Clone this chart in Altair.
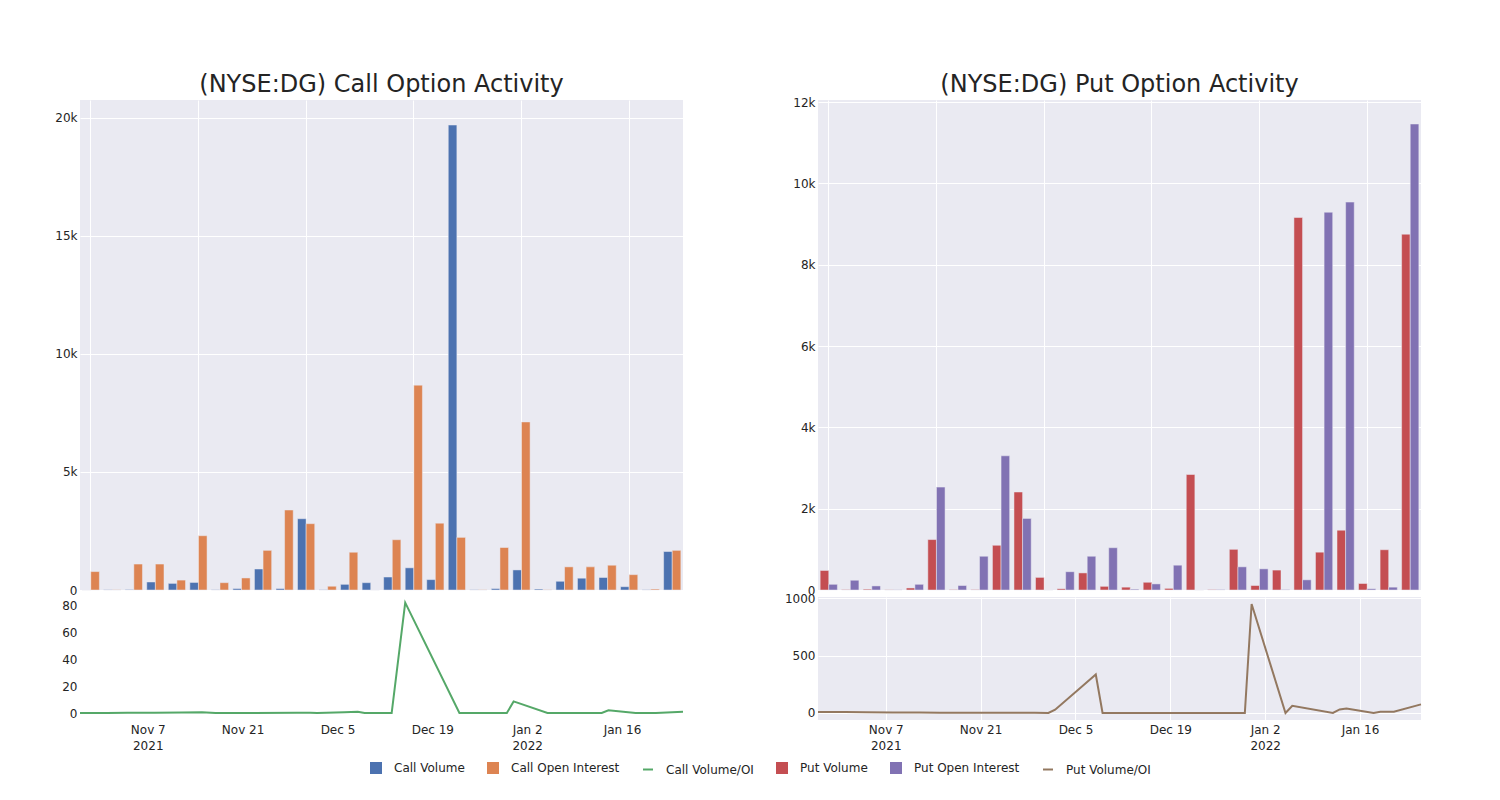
import altair as alt
import pandas as pd

# ---------------- data ----------------
dates = ["2021-10-28", "2021-11-01", "2021-11-04", "2021-11-08", "2021-11-12", "2021-11-15",
         "2021-11-17", "2021-11-22", "2021-11-29", "2021-12-01", "2021-12-02", "2021-12-06",
         "2021-12-08", "2021-12-09", "2021-12-13", "2021-12-15", "2021-12-23", "2021-12-30",
         "2021-12-31", "2022-01-05", "2022-01-06", "2022-01-12", "2022-01-13", "2022-01-14",
         "2022-01-18", "2022-01-19", "2022-01-21", "2022-01-25"]

call_volume = [0, 10, 20, 340, 280, 320, 10, 60, 890, 60, 3020, 10, 240, 310,
               550, 940, 440, 19700, 10, 60, 850, 40, 370, 500, 530, 140, 10, 1630]
call_open_interest = [780, 10, 1100, 1100, 420, 2300, 310, 510, 1680, 3390, 2810, 160, 1600, 0,
                      2130, 8680, 2830, 2230, 10, 1800, 7120, 10, 980, 980, 1050, 650, 40, 1680]
put_volume = [480, 10, 20, 5, 50, 1240, 10, 10, 1100, 2410, 310, 30, 420, 90,
              70, 190, 40, 2840, 10, 1000, 110, 490, 9160, 930, 1470, 160, 990, 8750]
put_open_interest = [140, 240, 100, 5, 140, 2530, 110, 830, 3300, 1760, 0, 450, 830, 1040,
                     20, 150, 610, 0, 10, 570, 520, 10, 250, 9290, 9540, 30, 70, 11460]

call_volume_oi = [0, 0.1, 0.2, 0.3, 0.4, 0.5, 0, 0, 0.2, 0.3, 0, 0.6, 1.0, 0,
                  0, 82.5, 0, 0, 8.7, 0, 0, 0, 0, 2.0, 0.1, 0.1, 0, 1.0]
put_volume_oi = [9, 8, 6, 5, 4, 3, 2, 1, 1, 0, 29, 233, 335, 0,
                 0, 0, 0, 0, 948, 0, 63, 0, 31, 40, 0, 11, 11, 75]

SERIES = ["Call Volume", "Call Open Interest", "Call Volume/OI",
          "Put Volume", "Put Open Interest", "Put Volume/OI"]
COLORS = ["#4C72B0", "#DD8452", "#55A868", "#C44E52", "#8172B3", "#937860"]
SHAPES = ["square", "square", "stroke", "square", "square", "stroke"]

FONT = "DejaVu Sans"
TXT = "#242424"

color_of = dict(zip(SERIES, COLORS))
n = len(dates)


def bar_frame(first, second, v1, v2):
    return pd.DataFrame({"date": dates * 2,
                         "slot": ["a"] * n + ["b"] * n,
                         "color": [color_of[first]] * n + [color_of[second]] * n,
                         "value": v1 + v2})


call_bars = bar_frame("Call Volume", "Call Open Interest", call_volume, call_open_interest)
put_bars = bar_frame("Put Volume", "Put Open Interest", put_volume, put_open_interest)
call_line = pd.DataFrame({"date": pd.to_datetime(dates), "color": color_of["Call Volume/OI"],
                          "value": call_volume_oi})
put_line = pd.DataFrame({"date": pd.to_datetime(dates), "color": color_of["Put Volume/OI"],
                         "value": put_volume_oi})
legend_df = pd.DataFrame({"series": SERIES})

grid_cats = [dates[i] for i in range(0, n, 5)]
k_expr = "datum.value == 0 ? '0' : format(datum.value / 1000, 'd') + 'k'"


def bar_chart(df, ymax, yticks, title, ext, toff):
    return alt.Chart(df).mark_bar(stroke="#EAEAF2", strokeWidth=0.5).encode(
        x=alt.X("date:O", sort=dates,
                scale=alt.Scale(paddingInner=0.2, paddingOuter=0.1),
                axis=alt.Axis(values=grid_cats, labels=False, ticks=False, domain=False,
                              title=None, grid=True, bandPosition=0.5,
                              minExtent=0, maxExtent=0)),
        xOffset=alt.XOffset("slot:N", scale=alt.Scale(paddingInner=0, paddingOuter=0)),
        y=alt.Y("value:Q", scale=alt.Scale(domain=[0, ymax], nice=False),
                axis=alt.Axis(values=yticks, labelExpr=k_expr, title=None, ticks=False,
                              domain=False, labelPadding=3, minExtent=ext, maxExtent=ext)),
        color=alt.Color("color:N", scale=None),
    ).properties(
        width=603, height=490,
        title=alt.TitleParams(title, fontSize=24, fontWeight="normal", color=TXT,
                              font=FONT, anchor="middle", offset=toff, frame="group"),
    )


label_expr = ("[timeFormat(datum.value, '%b %-d'), "
              "(month(datum.value) == 10 && date(datum.value) == 7) ? '2021' : "
              "((month(datum.value) == 0 && date(datum.value) == 2) ? '2022' : '')]")
xticks = [alt.DateTime(year=2021, month=11, date=7), alt.DateTime(year=2021, month=11, date=21),
          alt.DateTime(year=2021, month=12, date=5), alt.DateTime(year=2021, month=12, date=19),
          alt.DateTime(year=2022, month=1, date=2), alt.DateTime(year=2022, month=1, date=16)]


def line_chart(df, ydom, yticks, ext):
    return alt.Chart(df).mark_line(strokeWidth=2).encode(
        x=alt.X("date:T", scale=alt.Scale(nice=False),
                axis=alt.Axis(values=xticks, labelExpr=label_expr, title=None, ticks=False,
                              domain=False, labelPadding=4, labelLineHeight=16,
                              labelFontSize=12)),
        y=alt.Y("value:Q", scale=alt.Scale(domain=ydom, nice=False, zero=False),
                axis=alt.Axis(values=yticks, format="d", title=None, ticks=False,
                              domain=False, labelPadding=3, minExtent=ext, maxExtent=ext)),
        color=alt.Color("color:N", scale=None),
    ).properties(width=603, height=123)


leg = alt.Legend(orient="none", direction="horizontal", title=None, legendX=290, legendY=662,
                 labelFont=FONT, labelFontSize=12, labelColor=TXT, symbolSize=100,
                 symbolStrokeWidth=2, symbolOpacity=1, labelOffset=12, columnPadding=19)

legend_layer = alt.Chart(legend_df).mark_point(filled=True, opacity=1).encode(
    fill=alt.Fill("series:N", scale=alt.Scale(domain=SERIES, range=COLORS), legend=leg),
    stroke=alt.Stroke("series:N", scale=alt.Scale(domain=SERIES, range=COLORS), legend=leg),
    shape=alt.Shape("series:N", scale=alt.Scale(domain=SERIES, range=SHAPES), legend=leg),
).transform_filter("false")

left = alt.vconcat(
    bar_chart(call_bars, 20760, [0, 5000, 10000, 15000, 20000],
              "(NYSE:DG) Call Option Activity", 30, 3),
    alt.layer(line_chart(call_line, [-5.2, 86.7], [0, 20, 40, 60, 80], 30), legend_layer),
    spacing=7, bounds="flush",
)
right = alt.vconcat(
    bar_chart(put_bars, 12050, [0, 2000, 4000, 6000, 8000, 10000, 12000],
              "(NYSE:DG) Put Option Activity", 36, -1),
    line_chart(put_line, [-61, 1009], [0, 500, 1000], 36),
    spacing=7, bounds="flush",
)

chart = alt.hconcat(left, right, spacing=95).properties(
    padding={"left": 42, "top": 65, "right": 5, "bottom": 5},
    background="white",
).configure(font=FONT).configure_axis(
    labelFont=FONT, labelFontSize=12, labelColor=TXT, gridColor="white", gridWidth=1,
    gridOpacity=1,
).configure_view(fill="#EAEAF2", strokeWidth=0)

chart.save("out.html", embed_options={"renderer": "svg", "actions": False})
